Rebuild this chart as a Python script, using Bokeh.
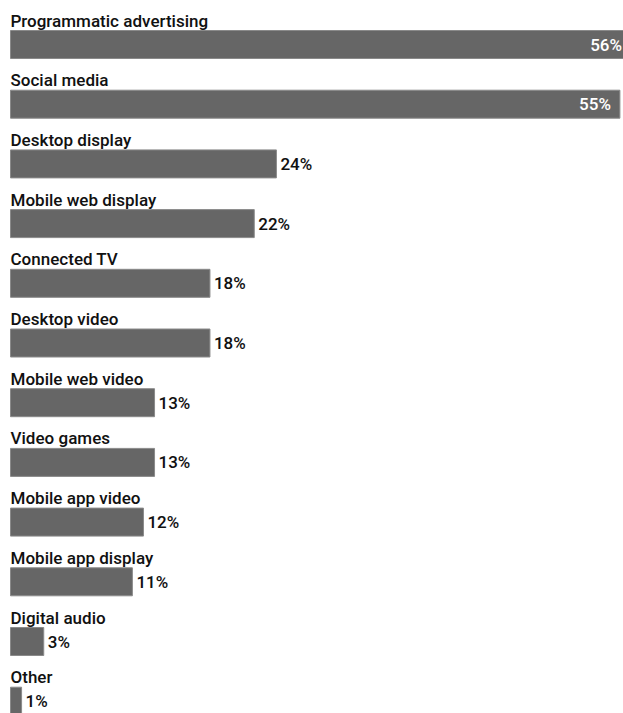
from bokeh.plotting import figure
from bokeh.models import ColumnDataSource, Range1d
from bokeh.core.properties import value
from bokeh.embed import file_html
from bokeh.resources import INLINE

categories = ["Programmatic advertising", "Social media", "Desktop display",
              "Mobile web display", "Connected TV", "Desktop video",
              "Mobile web video", "Video games", "Mobile app video",
              "Mobile app display", "Digital audio", "Other"]
values = [56, 55, 24, 22, 18, 18, 13, 13, 12, 11, 3, 1]
value_labels = [f"{v}%" for v in values]

W, H = 623, 713
px_per_unit = 11.08
left_px = 10
row_px = 59.7
first_center = 44

idx = list(range(len(categories)))
inside = [v > 50 for v in values]

src = ColumnDataSource(dict(y=idx, v=values, cat=categories, lab=value_labels))
src_in = ColumnDataSource(dict(y=[i for i in idx if inside[i]],
                               v=[values[i] for i in idx if inside[i]],
                               lab=[value_labels[i] for i in idx if inside[i]]))
src_out = ColumnDataSource(dict(y=[i for i in idx if not inside[i]],
                                v=[values[i] for i in idx if not inside[i]],
                                lab=[value_labels[i] for i in idx if not inside[i]]))

x0 = -left_px / px_per_unit
x1 = x0 + W / px_per_unit
y_top = -first_center / row_px
y_bot = y_top + H / row_px

p = figure(width=W, height=H, output_backend="svg", toolbar_location=None,
           x_range=Range1d(x0, x1), y_range=Range1d(y_bot, y_top),
           min_border=0, min_border_left=0, min_border_right=0,
           min_border_top=0, min_border_bottom=0)
p.axis.visible = False
p.grid.visible = False
p.outline_line_color = None
p.background_fill_color = "white"
p.border_fill_color = "white"

p.hbar(y="y", left=0, right="v", height=28 / row_px, source=src,
       fill_color="#666666", line_color="#8a8a8a", line_width=1)

font = value("'Roboto Medium', Roboto")
p.text(x=0, y="y", text="cat", source=src, y_offset=-24,
       text_font=font, text_font_style="normal", text_font_size="17px",
       text_color="#111111", text_baseline="alphabetic", text_align="left")

p.text(x="v", y="y", text="lab", source=src_in, x_offset=-9,
       text_font=font, text_font_style="normal", text_font_size="17px",
       text_color="white", text_baseline="middle", text_align="right")

p.text(x="v", y="y", text="lab", source=src_out, x_offset=4,
       text_font=font, text_font_style="normal", text_font_size="17px",
       text_color="#111111", text_baseline="middle", text_align="left")

open("out.html", "w").write(file_html(p, INLINE))
